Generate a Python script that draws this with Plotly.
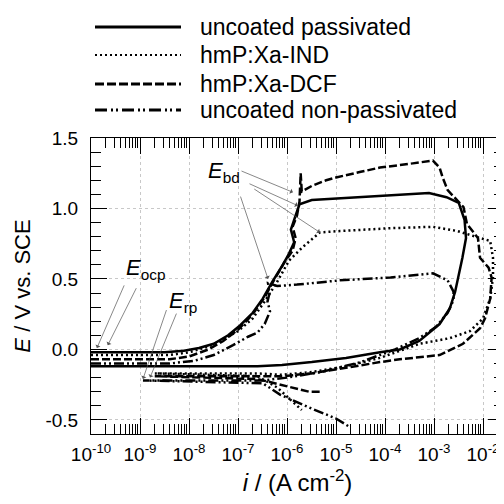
import math
import plotly.graph_objects as go

# ---------------- data (current density in A cm^-2, potential in V vs. SCE) ----------------
i_unc_pass = [1.0e-10, 3.2e-9, 7.9e-9, 1.6e-8, 3.2e-8, 6.3e-8, 1.1e-7, 2.0e-7, 3.2e-7, 5.0e-7,
              7.9e-7, 1.1e-6, 1.4e-6, 1.2e-6, 1.5e-6, 1.8e-6, 3.2e-6, 1.0e-5, 7.9e-5, 7.9e-4,
              1.8e-3, 3.2e-3, 4.2e-3, 4.5e-3, 3.8e-3, 3.2e-3, 2.7e-3, 2.1e-3, 1.3e-3, 5.0e-4,
              2.0e-4, 7.9e-5, 1.6e-5, 3.2e-6, 7.9e-7, 2.5e-7, 3.2e-8, 1.0e-10]
E_unc_pass = [-0.02, -0.02, -0.01, 0.01, 0.04, 0.10, 0.17, 0.26, 0.36, 0.48,
              0.59, 0.68, 0.76, 0.85, 0.95, 1.03, 1.06, 1.07, 1.09, 1.11,
              1.08, 1.04, 0.92, 0.79, 0.65, 0.54, 0.41, 0.29, 0.18, 0.06,
              0.00, -0.02, -0.06, -0.09, -0.11, -0.12, -0.12, -0.12]

i_ind = [1.0e-10, 4.0e-9, 1.0e-8, 2.5e-8, 5.6e-8, 1.0e-7, 2.0e-7, 3.5e-7, 6.3e-7, 1.1e-6,
         2.0e-6, 3.2e-6, 4.7e-6, 1.2e-5, 1.3e-4, 9.5e-4, 3.0e-3, 8.7e-3, 1.4e-2, 1.6e-2,
         1.6e-2, 1.4e-2, 1.0e-2, 5.4e-3, 2.1e-3, 5.1e-4, 2.0e-4, 7.9e-5, 1.6e-5, 3.2e-6,
         7.9e-7, 2.5e-7, 2.0e-9, 2.5e-7, 6.3e-7, 1.1e-6, 2.0e-6]
E_ind = [-0.04, -0.04, -0.02, 0.02, 0.08, 0.13, 0.22, 0.34, 0.48, 0.63,
         0.72, 0.78, 0.83, 0.84, 0.86, 0.87, 0.84, 0.79, 0.77, 0.65,
         0.51, 0.36, 0.22, 0.13, 0.08, 0.04, -0.01, -0.06, -0.12, -0.16,
         -0.18, -0.17, -0.17, -0.19, -0.27, -0.35, -0.43]

i_dcf = [1.0e-10, 4.0e-9, 1.0e-8, 2.5e-8, 5.0e-8, 1.0e-7, 2.0e-7, 3.5e-7, 5.6e-7, 8.9e-7,
         1.3e-6, 1.5e-6, 1.3e-6, 1.6e-6, 1.8e-6, 1.9e-6, 2.0e-6, 3.2e-6, 6.3e-6, 1.0e-5,
         3.2e-5, 7.9e-5, 3.7e-4, 9.5e-4, 1.3e-3, 1.5e-3, 1.9e-3, 3.0e-3, 4.0e-3, 4.7e-3,
         7.9e-3, 8.7e-3, 1.3e-2, 1.5e-2, 1.4e-2, 1.1e-2, 8.7e-3, 3.9e-3, 1.3e-3, 2.0e-4,
         7.9e-5, 1.6e-5, 3.2e-6, 7.9e-7, 2.5e-7, 2.0e-9, 2.5e-7, 1.0e-6, 2.8e-6, 5.0e-6]
E_dcf = [-0.07, -0.07, -0.05, 0.00, 0.06, 0.14, 0.25, 0.37, 0.50, 0.62,
         0.70, 0.79, 0.87, 0.95, 1.05, 1.25, 1.12, 1.16, 1.20, 1.22,
         1.26, 1.29, 1.32, 1.34, 1.29, 1.22, 1.13, 1.06, 1.01, 0.89,
         0.79, 0.65, 0.58, 0.51, 0.36, 0.22, 0.15, 0.04, -0.04, -0.07,
         -0.09, -0.13, -0.17, -0.19, -0.19, -0.19, -0.21, -0.26, -0.30, -0.30]

i_unc_nonpass = [1.0e-10, 4.0e-9, 1.3e-8, 3.2e-8, 7.9e-8, 1.6e-7, 2.5e-7, 3.5e-7, 4.5e-7, 4.0e-7,
                 4.4e-7, 4.1e-7, 6.3e-7, 1.6e-6, 1.2e-5, 1.3e-4, 9.5e-4, 1.9e-3, 2.5e-3, 2.5e-3,
                 1.9e-3, 1.1e-3, 5.0e-4, 1.6e-4, 3.2e-5, 5.0e-6, 1.0e-6, 3.2e-7, 1.15e-9, 3.2e-7,
                 7.2e-7, 3.2e-6, 1.0e-5, 1.9e-5]
E_unc_nonpass = [-0.10, -0.10, -0.08, -0.04, 0.03, 0.09, 0.12, 0.18, 0.27, 0.34,
                 0.40, 0.47, 0.45, 0.46, 0.49, 0.51, 0.54, 0.49, 0.41, 0.35,
                 0.26, 0.16, 0.08, 0.00, -0.09, -0.16, -0.20, -0.22, -0.22, -0.24,
                 -0.32, -0.42, -0.49, -0.55]

series_names = ["uncoated passivated", "hmP:Xa-IND", "hmP:Xa-DCF", "uncoated non-passivated"]
series_i = [i_unc_pass, i_ind, i_dcf, i_unc_nonpass]
series_E = [E_unc_pass, E_ind, E_dcf, E_unc_nonpass]
dash_plot = ["solid", "2px,3px", "8px,3px", "10px,3px,2px,3px,2px,3px"]
dash_legend = ["solid", "2px,3px", "9px,3px", "12px,4px,2px,3px,2px,4px"]

x_tick_exp = [-10, -9, -8, -7, -6, -5, -4, -3, -2]
y_tick_vals = [-0.5, 0.0, 0.5, 1.0, 1.5]
y_tick_text = ["-0.5", "0.0", "0.5", "1.0", "1.5"]

FONT = "Liberation Sans, Arial, sans-serif"

fig = go.Figure()
for name, xs, ys, d in zip(series_names, series_i, series_E, dash_plot):
    fig.add_trace(go.Scatter(x=xs, y=ys, mode="lines", name=name, showlegend=False,
                             line=dict(color="black", width=2.5, dash=d)))

# ---------------- geometry (screen pixels; page body has an 8px offset) ----------------
OFF = 8
FIG_W, FIG_H = 504 - OFF, 504 - 2 * OFF
L_PLOT, R_PLOT, T_PLOT, B_PLOT = 91, 504, 138, 434
W_PLOT, H_PLOT = R_PLOT - L_PLOT, B_PLOT - T_PLOT
def px(xp):
    return (xp - L_PLOT) / W_PLOT
def py(yp):
    return (B_PLOT - yp) / H_PLOT

legend_rows = [27, 55, 84, 110]
shapes = []
annotations = []
for name, d, row in zip(series_names, dash_legend, legend_rows):
    shapes.append(dict(type="line", xref="paper", yref="paper", x0=px(95), x1=px(181),
                       y0=py(row), y1=py(row), line=dict(color="black", width=3 if d != "2px,3px" else 2, dash=d)))
    annotations.append(dict(xref="paper", yref="paper", x=px(198), y=py(row), xanchor="left",
                            yanchor="middle", text=name, showarrow=False,
                            font=dict(family=FONT, size=23, color="black")))

# ---------------- E labels and arrows ----------------
def lg(v):
    return math.log10(v)

labels = [("<i>E</i><sub>ocp</sub>", 4.8e-10, 0.57),
          ("<i>E</i><sub>rp</sub>", 3.55e-9, 0.34),
          ("<i>E</i><sub>bd</sub>", 2.25e-8, 1.26)]
for txt, xv, yv in labels:
    annotations.append(dict(x=lg(xv), y=yv, xref="x", yref="y", text=txt, showarrow=False,
                            xanchor="left", yanchor="middle",
                            font=dict(family=FONT, size=22, color="black")))

# arrows: (head_i, head_E, tail_i, tail_E)
arrows = [(1.32e-10, 0.01, 4.9e-10, 0.465),
          (2.2e-10, 0.03, 8.7e-10, 0.445),
          (1.15e-9, -0.21, 3.55e-9, 0.29),
          (1.6e-9, -0.20, 5.7e-9, 0.265),
          (1.32e-6, 1.115, 1.1e-7, 1.27),
          (4.7e-6, 0.83, 2.0e-7, 1.145),
          (4.1e-7, 0.50, 1.1e-7, 1.095),
          (1.66e-6, 1.02, 1.6e-7, 1.18)]
for hx, hy, tx, ty in arrows:
    annotations.append(dict(x=lg(hx), y=hy, ax=lg(tx), ay=ty, xref="x", yref="y",
                            axref="x", ayref="y", text="", showarrow=True,
                            arrowhead=1, arrowsize=1.3, arrowwidth=0.7, arrowcolor="#555"))

minor_x = [m * 10.0 ** e for e in range(-10, -1) for m in range(2, 10)]
minor_y = [round(-0.6 + 0.1 * k, 2) for k in range(22)]

axis_common = dict(showline=True, linecolor="black", linewidth=1, mirror="allticks",
                   ticks="inside", ticklen=16, tickwidth=1, tickcolor="black",
                   showgrid=True, gridcolor="#c8c8c8", griddash="dot", gridwidth=1,
                   zeroline=False, automargin=False,
                   tickfont=dict(family=FONT, size=19, color="black"))

fig.update_layout(
    width=FIG_W, height=FIG_H,
    margin=dict(l=L_PLOT - OFF, r=0, t=T_PLOT - OFF, b=FIG_H - (B_PLOT - OFF)),
    paper_bgcolor="white", plot_bgcolor="white",
    font=dict(family=FONT, size=19, color="black"),
    shapes=shapes, annotations=annotations,
    xaxis=dict(type="log", range=[-10, -10 + W_PLOT / 49.0],
               tickmode="array", tickvals=[10.0 ** e for e in x_tick_exp],
               ticktext=["10<sup>%d</sup>" % e for e in x_tick_exp],
               ticklabelstandoff=3,
               minor=dict(tickmode="array", tickvals=minor_x, ticks="inside", ticklen=10,
                          tickcolor="black", showgrid=False),
               title=dict(text="<i>i</i> / (A cm<sup>-2</sup>)", standoff=16,
                          font=dict(family=FONT, size=24, color="black")),
               **axis_common),
    yaxis=dict(range=[-0.6, 1.5], tickmode="array", tickvals=y_tick_vals, ticktext=y_tick_text,
               ticklabelstandoff=8,
               minor=dict(tickmode="array", tickvals=minor_y, ticks="inside", ticklen=10,
                          tickcolor="black", showgrid=False),
               title=dict(text="<i>E</i> / V vs. SCE", standoff=8,
                          font=dict(family=FONT, size=22, color="black")),
               **axis_common),
)

fig.write_html("out.html")
